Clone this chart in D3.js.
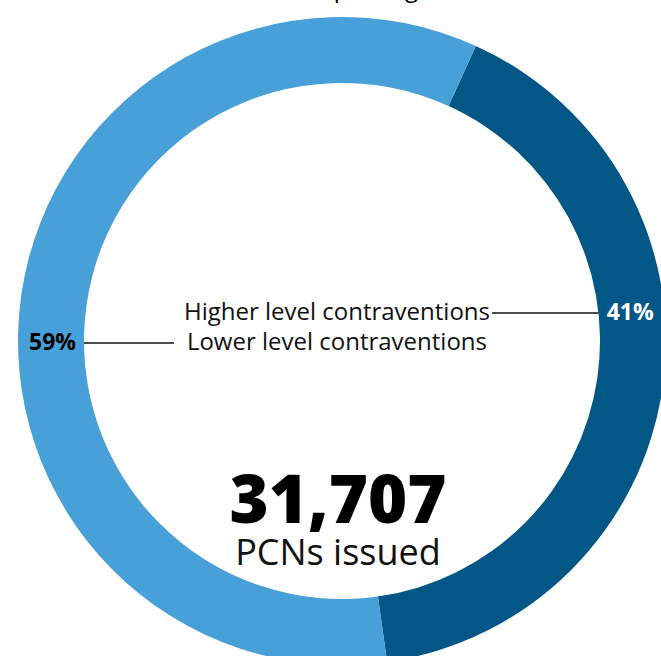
<!DOCTYPE html>
<html>
<head>
<meta charset="utf-8">
<script src="https://cdn.jsdelivr.net/npm/d3@7"></script>
<style>
  body { margin: 0; background: #fff; }
  svg { display: block; font-family: "Open Sans", sans-serif; }
</style>
</head>
<body>
<div id="chart"></div>
<script>
// data
const categories = ["Higher level contraventions", "Lower level contraventions"];
const shares = [41, 59];
const shareLabels = ["41%", "59%"];
const colours = ["#025786", "#48a0d8"];
const totalIssued = "31,707";
const totalCaption = "PCNs issued";
const titleText = "On-street parking";

const width = 661, height = 656;
const cx = 342, cy = 341;
const rOuter = 324, rInner = 258;
const start = 24.4 * Math.PI / 180;

const svg = d3.select("#chart").append("svg")
    .attr("width", width)
    .attr("height", height);

// title sits mostly above the crop, only descenders visible
svg.append("text")
    .attr("x", 418)
    .attr("y", -3)
    .attr("text-anchor", "end")
    .attr("font-size", 24)
    .text(titleText);

const g = svg.append("g")
    .attr("transform", `translate(${cx},${cy})`);

const pie = d3.pie()
    .sort(null)
    .startAngle(start)
    .endAngle(start + 2 * Math.PI);

const arc = d3.arc()
    .innerRadius(rInner)
    .outerRadius(rOuter);

const slices = pie(shares);

g.selectAll("path.slice")
    .data(slices)
    .enter()
    .append("path")
    .attr("class", "slice")
    .attr("d", arc)
    .attr("fill", (d, i) => colours[i]);

// label rows: y offset of the leader line from centre, side of the ring
const rows = [
    {dy: -28, base: -21, side: 1, textEnd: 490, pctFill: "#fff"},
    {dy: 2, base: 9, side: -1, textEnd: 487, pctFill: "#000"}
];
const rMid = (rInner + rOuter) / 2;

rows.forEach((row, i) => {
    g.append("text")
        .attr("x", row.textEnd - cx)
        .attr("y", row.base)
        .attr("text-anchor", "end")
        .attr("font-size", 24)
        .attr("fill", "#111")
        .text(categories[i]);

    const xIn = row.side * Math.sqrt(rInner * rInner - row.dy * row.dy);
    const xMid = row.side * Math.sqrt(rMid * rMid - row.dy * row.dy);
    const x0 = row.side > 0 ? row.textEnd - cx + 2 : 174 - cx;
    g.append("line")
        .attr("x1", x0).attr("x2", xIn)
        .attr("y1", row.dy).attr("y2", row.dy)
        .attr("stroke", "#111").attr("stroke-width", 1.3);

    g.append("text")
        .attr("x", xMid - row.side * 1.5)
        .attr("y", row.base)
        .attr("text-anchor", "middle")
        .attr("font-size", 23)
        .attr("font-weight", 700)
        .attr("fill", row.pctFill)
        .text(shareLabels[i]);
});

g.append("text")
    .attr("x", 338 - cx)
    .attr("y", 523 - cy)
    .attr("text-anchor", "middle")
    .attr("font-size", 67)
    .attr("font-weight", 800)
    .attr("fill", "#000")
    .text(totalIssued);

g.append("text")
    .attr("x", 338 - cx)
    .attr("y", 565 - cy)
    .attr("text-anchor", "middle")
    .attr("font-size", 36)
    .attr("fill", "#111")
    .text(totalCaption);
</script>
</body>
</html>
